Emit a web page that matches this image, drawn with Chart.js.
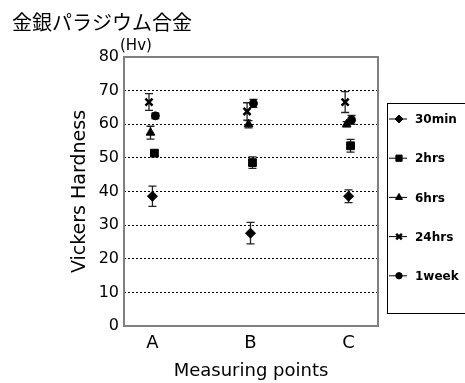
<!DOCTYPE html>
<html>
<head>
<meta charset="utf-8">
<script src="https://cdn.jsdelivr.net/npm/chart.js@4/dist/chart.umd.min.js"></script>
<style>
  body { margin: 0; background: #fff; }
  #wrap { width: 465px; height: 383px; position: relative; }
</style>
</head>
<body>
<div id="wrap"><canvas id="hardness"></canvas></div>
<script>
// measuring points and time series
const points = ['A', 'B', 'C'];
const seriesNames = ['30min', '2hrs', '6hrs', '24hrs', '1week'];

// Vickers hardness (Hv) per point
const hv30min = [38.6, 27.6, 38.6];
const hv2hrs  = [51.4, 48.6, 53.6];
const hv6hrs  = [57.5, 60.0, 60.0];
const hv24hrs = [66.6, 63.8, 66.6];
const hv1week = [62.5, 66.2, 61.3];

// error bar half lengths
const err30min = [3.0, 3.2, 1.9];
const err2hrs  = [0.8, 1.7, 1.9];
const err6hrs  = [1.9, 1.1, 0.8];
const err24hrs = [2.5, 2.6, 3.1];
const err1week = [0.8, 1.2, 1.3];

// small sideways shift of each series at a point
const jitter = [0, 0.02, -0.02, -0.035, 0.03];

const yTicks = [0, 10, 20, 30, 40, 50, 60, 70, 80];

const values = [hv30min, hv2hrs, hv6hrs, hv24hrs, hv1week];
const errors = [err30min, err2hrs, err6hrs, err24hrs, err1week];
const styles = [
  { pointStyle: 'rectRot', pointRadius: 5, borderWidth: 1 },
  { pointStyle: 'rect', pointRadius: 5.5, borderWidth: 1 },
  { pointStyle: 'triangle', pointRadius: 5, borderWidth: 1 },
  { pointStyle: 'crossRot', pointRadius: 5, borderWidth: 2.5 },
  { pointStyle: 'circle', pointRadius: 4, borderWidth: 1 }
];

let datasets = [];
for (let s = 0; s < seriesNames.length; s++) {
  let pts = [];
  for (let i = 0; i < points.length; i++) {
    pts.push({ x: i + jitter[s], y: values[s][i], e: errors[s][i] });
  }
  datasets.push({
    label: seriesNames[s],
    data: pts,
    showLine: false,
    pointStyle: styles[s].pointStyle,
    pointRadius: styles[s].pointRadius,
    pointHoverRadius: styles[s].pointRadius,
    borderWidth: styles[s].borderWidth,
    pointBorderWidth: styles[s].borderWidth,
    backgroundColor: '#000',
    borderColor: '#000'
  });
}

// error bars, drawn under the markers
const errorBars = {
  id: 'errorBars',
  beforeDatasetsDraw(chart) {
    const ctx = chart.ctx;
    const y = chart.scales.y;
    ctx.save();
    ctx.strokeStyle = '#222';
    ctx.lineWidth = 1.3;
    chart.data.datasets.forEach((ds, di) => {
      const meta = chart.getDatasetMeta(di);
      meta.data.forEach((el, i) => {
        const e = ds.data[i].e;
        const yTop = y.getPixelForValue(ds.data[i].y + e);
        const yBot = y.getPixelForValue(ds.data[i].y - e);
        ctx.beginPath();
        ctx.moveTo(el.x, yTop); ctx.lineTo(el.x, yBot);
        ctx.moveTo(el.x - 4, yTop); ctx.lineTo(el.x + 4, yTop);
        ctx.moveTo(el.x - 4, yBot); ctx.lineTo(el.x + 4, yBot);
        ctx.stroke();
      });
    });
    ctx.restore();
  }
};

// gray frame round the plot, "(Hv)" unit and the boxed legend
const frameAndLegend = {
  id: 'frameAndLegend',
  afterDraw(chart) {
    const ctx = chart.ctx;
    const a = chart.chartArea;
    ctx.save();
    ctx.strokeStyle = '#808080';
    ctx.lineWidth = 2;
    ctx.strokeRect(a.left, a.top, a.right - a.left, a.bottom - a.top);

    ctx.fillStyle = '#000';
    ctx.font = '15px "DejaVu Sans"';
    ctx.textAlign = 'left';
    ctx.textBaseline = 'alphabetic';
    ctx.fillText('(Hv)', a.left - 4, a.top - 7);

    const bx = a.right + 9;
    const top = 103, bottom = 313;
    ctx.strokeStyle = '#000';
    ctx.lineWidth = 1;
    ctx.strokeRect(bx + 0.5, top + 0.5, chart.width - bx + 10, bottom - top);

    ctx.font = 'bold 12px "DejaVu Sans"';
    ctx.textBaseline = 'middle';
    chart.data.datasets.forEach((ds, i) => {
      const ly = 119 + i * 39.2;
      ctx.strokeStyle = '#000';
      ctx.lineWidth = 1;
      ctx.beginPath();
      ctx.moveTo(bx + 2, ly); ctx.lineTo(bx + 20, ly);
      ctx.stroke();
      ctx.fillStyle = '#000';
      ctx.lineWidth = ds.borderWidth;
      Chart.helpers.drawPoint(ctx, {
        pointStyle: ds.pointStyle,
        radius: ds.pointRadius * 0.8,
        borderWidth: ds.borderWidth,
        rotation: 0
      }, bx + 12, ly);
      ctx.fillStyle = '#000';
      ctx.fillText(ds.label, bx + 28, ly + 1);
    });
    ctx.restore();
  }
};

new Chart(document.getElementById('hardness'), {
  type: 'scatter',
  data: { datasets: datasets },
  options: {
    responsive: true,
    maintainAspectRatio: false,
    animation: false,
    layout: { padding: { left: 12, right: 87, top: 0, bottom: 0 } },
    plugins: {
      legend: { display: false },
      tooltip: { enabled: false },
      title: {
        display: true,
        text: '金銀パラジウム合金',
        align: 'start',
        color: '#000',
        font: { family: '"Noto Sans CJK JP"', size: 20, weight: 'normal' },
        padding: { top: 10, bottom: 23 }
      }
    },
    scales: {
      x: {
        type: 'linear',
        min: -0.29,
        max: 2.3,
        afterFit: (s) => { s.height = 57; },
        afterBuildTicks: (s) => { s.ticks = points.map((p, i) => ({ value: i })); },
        grid: { display: false, drawTicks: false },
        border: { display: false },
        ticks: {
          color: '#000',
          padding: 7,
          font: { family: '"DejaVu Sans"', size: 18 },
          callback: (v) => points[v]
        },
        title: {
          display: true,
          text: 'Measuring points',
          color: '#000',
          font: { family: '"DejaVu Sans"', size: 18 },
          padding: { top: 0, bottom: 1 }
        }
      },
      y: {
        min: 0,
        max: 80,
        afterFit: (s) => { s.width = 112; },
        afterBuildTicks: (s) => { s.ticks = yTicks.map(v => ({ value: v })); },
        grid: {
          drawTicks: false,
          color: (c) => (c.tick && (c.tick.value === 0 || c.tick.value === 80)) ? 'rgba(0,0,0,0)' : '#000',
          lineWidth: 1
        },
        border: { display: false, dash: [2, 2] },
        ticks: {
          color: '#000',
          padding: 5,
          font: { family: '"DejaVu Sans"', size: 16 }
        },
        title: {
          display: true,
          text: 'Vickers Hardness',
          color: '#000',
          font: { family: '"DejaVu Sans"', size: 19 },
          padding: { top: 57, bottom: 0 }
        }
      }
    }
  },
  plugins: [errorBars, frameAndLegend]
});
</script>
</body>
</html>
